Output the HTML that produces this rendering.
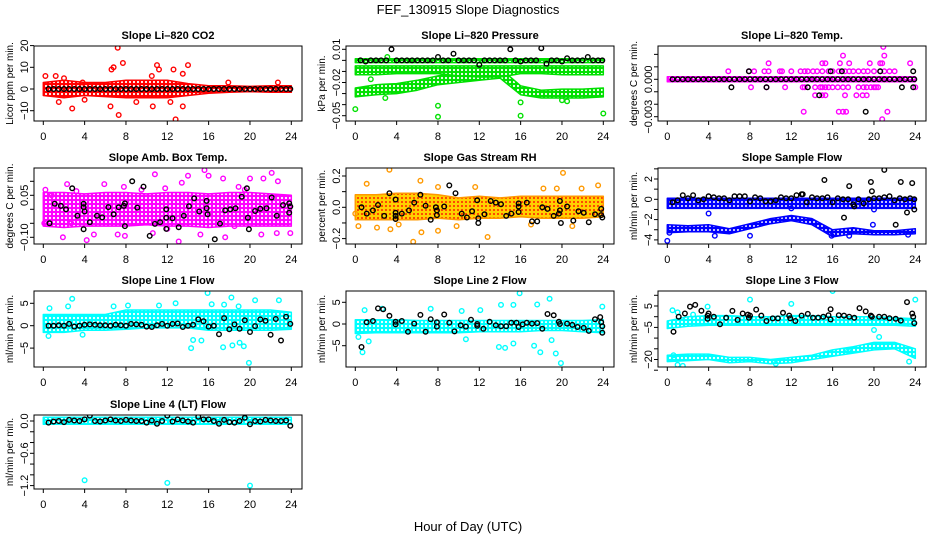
<!DOCTYPE html>
<html><head><meta charset="utf-8"><style>
html,body{margin:0;padding:0;background:#fff;}
svg{display:block;font-family:"Liberation Sans",Arial,sans-serif;}
</style></head><body>
<svg id="chart" xmlns="http://www.w3.org/2000/svg" width="936" height="540" viewBox="0 0 936 540">
<defs>
<pattern id="pat-red" width="4" height="4" patternUnits="userSpaceOnUse"><rect width="4" height="4" fill="#ff0000"/><circle cx="2" cy="2" r="1.1" fill="#fff"/></pattern>
<pattern id="pat-green" width="4" height="4" patternUnits="userSpaceOnUse"><rect width="4" height="4" fill="#00e000"/><circle cx="2" cy="2" r="1.1" fill="#fff"/></pattern>
<pattern id="pat-magenta" width="4" height="4" patternUnits="userSpaceOnUse"><rect width="4" height="4" fill="#ff00ff"/><circle cx="2" cy="2" r="1.1" fill="#fff"/></pattern>
<pattern id="pat-orange" width="4" height="4" patternUnits="userSpaceOnUse"><rect width="4" height="4" fill="#ffd000"/><circle cx="2" cy="2" r="1.0" fill="#ff2000"/></pattern>
<pattern id="pat-blue" width="4" height="4" patternUnits="userSpaceOnUse"><rect width="4" height="4" fill="#0000ff"/><circle cx="2" cy="2" r="1.0" fill="#fff"/></pattern>
<pattern id="pat-cyan" width="4" height="4" patternUnits="userSpaceOnUse"><rect width="4" height="4" fill="#00ffff"/><circle cx="2" cy="2" r="1.1" fill="#fff"/></pattern>
</defs>
<text x="468" y="14" text-anchor="middle" font-size="13">FEF_130915  Slope Diagnostics</text>
<text x="468" y="531" text-anchor="middle" font-size="13">Hour of Day (UTC)</text>
</svg>
<script>
const NS = "http://www.w3.org/2000/svg";
const xTicks = [0,4,8,12,16,20,24];
const bandT = [0,2,4,6,8,10,12,14,16,18,20,22,24];
const halfT = [0.5,1,1.5,2,2.5,3,3.5,4,4.5,5,5.5,6,6.5,7,7.5,8,8.5,9,9.5,10,10.5,11,11.5,12,12.5,13,13.5,14,14.5,15,15.5,16,16.5,17,17.5,18,18.5,19,19.5,20,20.5,21,21.5,22,22.5,23,23.5,23.9];
const zeros48 = [0,0,0,0,0,0,0,0,0,0,0,0,0,0,0,0,0,0,0,0,0,0,0,0,0,0,0,0,0,0,0,0,0,0,0,0,0,0,0,0,0,0,0,0,0,0,0,0];

// CO2
const co2BandLo = [-3,-4,-3,-3.5,-4,-4,-4,-3,-2,-1.5,-1.2,-1.5,-1.5];
const co2BandHi = [3,4,3,3,4,4,4,2.5,1.5,1.5,1.2,1.5,1.5];
const co2PtsT = [7.2,6.6,6.8,7.7,11,14,12.6,13.5,0.2,1.2,2.8,7.3,12.8,6.5,10.6,13.5,1.5,3.8,17.9,22.7,9,4,11.2,2,10.5,12.3];
const co2PtsV = [19,9,10,12,11,11,9,7,6,6,-9,-12,-14,-8,-8,-8,-6,3,3,3,-6,-5,9,5,6,-6];

// Pressure
const presTopLo = [-0.002,-0.002,-0.002,-0.002,-0.002,-0.002,-0.002,-0.002,-0.002,-0.002,-0.002,-0.002,-0.002];
const presTopHi = [0.0015,0.0015,0.0015,0.0015,0.0015,0.0015,0.0015,0.0015,0.0015,0.0015,0.0015,0.0015,0.0015];
const presMidLo = [-0.013,-0.013,-0.012,-0.012,-0.012,-0.014,-0.015,-0.015,-0.012,-0.012,-0.013,-0.013,-0.013];
const presMidHi = [-0.005,-0.005,-0.005,-0.005,-0.005,-0.005,-0.005,-0.005,-0.005,-0.005,-0.005,-0.005,-0.005];
const presLowLo = [-0.033,-0.031,-0.03,-0.027,-0.022,-0.02,-0.018,-0.016,-0.031,-0.034,-0.034,-0.034,-0.033];
const presLowHi = [-0.025,-0.022,-0.021,-0.018,-0.014,-0.011,-0.008,-0.007,-0.023,-0.027,-0.026,-0.026,-0.025];
const presPtsT = [0,8,8,16,16,24,20,20.5,2.9,3.1,1.5];
const presPtsV = [-0.044,-0.051,-0.041,-0.038,-0.05,-0.048,-0.036,-0.037,-0.034,0.003,-0.017];
const presBlkV = [0,-0.001,0,0,0,0,0.01,0,0,0,0,0,0,0,0,0.003,0,0,0.006,0,0,0,0,-0.004,0,0,0,0,0,0.01,0,-0.001,0,0,0,0.011,-0.003,0,0,-0.001,0.002,0,0,0,0.003,0,0,0];

// Temp
const tempBandLo = [-0.0002,-0.0002,-0.0002,-0.0002,-0.0002,-0.0002,-0.0002,-0.0002,-0.0002,-0.0002,-0.0002,-0.0002,-0.0002];
const tempBandHi = [0.0002,0.0002,0.0002,0.0002,0.0002,0.0002,0.0002,0.0002,0.0002,0.0002,0.0002,0.0002,0.0002];
const tempPtsT = [5.9,7.9,8.4,9.4,9.8,10.9,11.1,12,12.9,13.3,13.6,14.1,14.5,15,15.6,16,16.6,17.2,17.6,18,18.5,19,19.4,20,20.6,21,21.5,22,
  9.8,15,15.3,16.7,17.6,19.6,20.6,20.8,23.5,17,21,20.9,
  8.1,9.6,11.4,13.1,13.3,14.3,14.8,15,15.3,15.6,16,16.5,17,17.5,18.5,19,19.3,19.7,20,20.2,20.4,24,
  14.3,15,15.3,17.2,18.3,18.9,19.3,13.2,16.6,17,17.3,21.3,20.8];
const tempPtsV = [0.00064,0.00064,0.00064,0.00064,0.00064,0.00064,0.00064,0.00064,0.00064,0.00064,0.00064,0.00064,0.00064,0.00064,0.00064,0.00064,0.00064,0.00064,0.00064,0.00064,0.00064,0.00064,0.00064,0.00064,0.00064,0.00064,0.00064,0.00064,
  0.00128,0.00128,0.00128,0.00128,0.00128,0.00128,0.00128,0.00128,0.00128,0.0019,0.0019,0.0026,
  -0.00064,-0.00064,-0.00064,-0.00064,-0.00064,-0.00064,-0.00064,-0.00064,-0.00064,-0.00064,-0.00064,-0.00064,-0.00064,-0.00064,-0.00064,-0.00064,-0.00064,-0.00064,-0.00064,-0.00064,-0.00064,-0.00064,
  -0.00128,-0.00128,-0.00128,-0.00128,-0.00128,-0.00128,-0.00128,-0.0026,-0.0026,-0.0026,-0.0026,-0.0026,-0.0032];
const tempBlkT = [7.9,15.8,16.9,20.6,23.8,6.2,9.6,13.6,22.7,23.8,14.7,19.2];
const tempBlkV = [0.00064,0.00064,0.00064,0.00064,0.00064,-0.00064,-0.00064,-0.00064,-0.00064,-0.00064,-0.00128,-0.0026];

// Amb box temp
const ambBandLo = [-0.06,-0.065,-0.06,-0.06,-0.06,-0.055,-0.06,-0.06,-0.065,-0.06,-0.06,-0.06,-0.06];
const ambBandHi = [0.06,0.06,0.055,0.06,0.06,0.055,0.06,0.06,0.055,0.06,0.06,0.055,0.05];
const ambPtsT = [0.2,0.1,1.9,2.3,2.7,4.2,4.9,5.9,7.8,7.2,7.9,10.8,14,15.6,16,17.4,18.9,20,21.3,22.1,22.7,13.1,13.4,21.1,22.6,23.9,17.6,18.5,15.2,12,10.6,0.8,3.2,9.5,11.8,19.5];
const ambPtsV = [0.07,-0.05,-0.1,0.09,-0.05,-0.11,-0.09,0.09,0.08,-0.09,-0.095,0.125,0.12,0.14,0.12,0.11,0.08,0.11,0.11,0.13,0.1,-0.115,0.095,-0.09,-0.085,-0.085,-0.1,-0.06,-0.09,-0.07,-0.085,0.05,0.065,0.07,0.075,0.07];
const ambBlkT = [0.6,1.1,1.7,2.2,2.8,3.3,3.9,3.9,4,3.9,4.5,5.2,5.7,6.3,6.8,7.3,7.8,7.9,7.9,8.6,9.1,9.7,10.3,10.8,11.3,11.9,11.9,11.9,12.5,13.1,13.6,14.1,14.6,15.1,15.8,15.8,15.9,16.6,17.1,17.6,18.1,18.6,19.2,19.7,19.8,19.9,20.5,21,21.6,22.1,22.6,23.2,23.8,23.8,23.9];
const ambBlkV = [-0.05,0.02,0.012,0,0.075,-0.023,0.02,0.008,-0.008,-0.071,-0.046,-0.023,-0.029,0.008,-0.018,0.007,0.012,-0.06,0.021,0.1,0.006,0.081,-0.095,-0.052,-0.046,0,-0.03,-0.07,-0.032,-0.064,-0.023,0.011,0.039,-0.008,0.03,0.004,-0.018,-0.107,-0.051,-0.004,0,0.004,0.045,0.075,-0.03,-0.071,-0.006,0.002,0.004,0.042,-0.023,0.015,0.021,-0.012,0.01];

// RH
const rhBandLo = [-0.08,-0.08,-0.08,-0.08,-0.07,-0.08,-0.07,-0.07,-0.06,-0.07,-0.07,-0.07,-0.06];
const rhBandHi = [0.08,0.08,0.09,0.09,0.08,0.06,0.07,0.06,0.07,0.07,0.07,0.07,0.07];
const rhPtsT = [3.3,20.1,5.6,12.8,6.3,0.3,2.1,8,6.4,1.1,23.5,0,8,3.4,17,18.2,19.5,21.9,11.6,21,4.2,9.8];
const rhPtsV = [0.24,0.22,-0.22,-0.19,0.17,-0.12,-0.13,-0.15,-0.16,0.15,0.14,-0.04,0.13,-0.14,-0.11,0.12,0.12,0.12,0.13,-0.12,-0.11,-0.12];
const rhBlkT = [0.6,1.1,1.7,2.2,2.8,3.3,3.9,3.9,3.9,3.9,4.5,5.2,5.7,6.3,6.8,7.3,7.8,7.9,7.9,8.6,9.1,9.7,10.3,10.8,11.3,11.8,11.9,11.9,12.5,13.1,13.6,14.1,14.6,15.1,15.8,15.8,15.8,16.6,17.1,17.6,18.1,18.6,19.2,19.7,19.8,19.8,19.9,20.5,21.1,21.6,22.1,22.6,23.2,23.8,23.8,23.9];
const rhBlkV = [0,-0.04,-0.02,0.015,-0.055,0.09,0.05,-0.035,-0.055,-0.075,-0.04,-0.02,0.03,0.08,0.01,-0.08,0,-0.02,-0.05,0.005,0.14,0.09,-0.04,-0.065,-0.025,0.045,-0.07,-0.1,-0.045,0.04,0.03,0.02,-0.055,-0.04,0.025,0.005,-0.03,0.03,-0.09,-0.09,0,-0.01,-0.055,-0.04,-0.02,0.04,-0.1,0.005,-0.085,-0.025,-0.035,-0.095,-0.045,-0.01,-0.05,-0.065];

// Sample flow
const sfUpLo = [-0.9,-0.9,-0.9,-0.9,-0.9,-0.9,-0.9,-0.9,-0.9,-0.9,-0.9,-0.9,-0.9];
const sfUpHi = [0.1,0.1,0.1,0.1,0.1,0.1,0.1,0.1,0.1,0.1,0.1,0.1,0.1];
const sfLowLo = [-3.3,-3.2,-3.2,-3.4,-2.9,-2.4,-2.1,-2.5,-3.7,-3.4,-3.5,-3.5,-3.4];
const sfLowHi = [-2.5,-2.6,-2.5,-2.9,-2.4,-1.9,-1.6,-1.9,-3.0,-2.8,-3.1,-3.1,-2.9];
const sfPtsT = [0,0.2,4,8,15.9,17.6,19.9,12,20,23.3,4.6];
const sfPtsV = [-4.1,-3.3,-1.4,-3.6,-3.6,-3.6,-2.5,-0.9,-1.0,-3.5,-3.6];
const sfBlkV = [-0.3,-0.1,0.4,0.1,0.4,-0.1,0,0.3,0.2,0.1,0.1,-0.1,0.3,0.3,0.3,-0.2,0.2,0.1,-0.2,-0.2,-0.1,0.2,0.1,0.1,0.4,0.5,-0.3,0.2,0.1,0.1,0.2,-0.3,0.1,0,0,-0.5,0,-0.4,0,0.1,0.1,0.2,0.3,-0.1,0.1,0,0.1,0];
const sfBlkT = [15.2,17.6,19.7,19.8,21,22.6,23.7,23.9,23.2,17.1,22.1,18.1,13.1];
const sfBlkX = [1.9,1.3,1.7,0.8,2.9,1.7,1.6,-1.0,-1.3,-1.8,-2.5,-0.7,0.5];

// Line 1
const l1BandLo = [-1.5,-1.5,-1,-1,-0.8,-0.5,-0.5,-0.5,-1,-1,-1,-1,-0.8];
const l1BandHi = [2.5,2.5,2.5,2.5,3.5,3.5,3.5,3.5,3.5,3.5,3.5,3.5,3];
const l1PtsT = [2.8,3.8,0.5,15.9,18.2,20.5,22.8,14.3,14.5,15.3,17.4,18.3,19,19.4,19.9,16.3,17.5,18.9,2.4,6.8,8.2,12.8,11.2,0.6];
const l1PtsV = [6,-2,-2.3,7.3,6.3,5.7,5.7,-5,-3.2,-3.3,-4.8,-4.4,-3.8,-4.6,-8.3,4.8,4.7,4.3,4.3,4.3,4.5,5,4.5,3.9];
const l1BlkV = [0,0,0.1,0,0.4,-0.2,0,0.2,0.3,0.2,0.1,0.1,0,0.2,0.1,0,0.4,0.3,0.2,-0.2,-0.3,0.1,0.4,0,0.4,0.5,-0.3,0,0.2,1.4,1,-0.2,0,-1.9,1.7,-0.8,0.3,-0.7,1.2,-1.4,-0.1,1.4,1.1,-2,1.5,-3.3,2,0.4];

// Line 2
const l2BandLo = [-2.2,-2,-2,-2,-2,-2,-1.8,-1.8,-1.8,-1.5,-1.5,-1.8,-2];
const l2BandHi = [1,1,1,0.8,0.8,0.8,0.8,0.8,0.8,0.8,0.8,0.8,1];
const l2PtsT = [0.7,0.3,0.9,2.6,7.3,10.3,14.1,15.3,15.9,17.6,18.8,17.3,17.9,19.4,19.9,13.9,14.5,15.3,19,23.9,1.3,10.7,12.1];
const l2PtsV = [-6.5,-3,3.2,3.5,3.5,3,4.4,4.4,7.1,4.5,5.8,-5,-6.5,-6.8,-9,-5.3,-5.5,-4.5,-3.7,4,-4,-3.5,3.2];
const l2BlkT = [0.6,1.1,1.7,2.2,2.7,3.3,3.9,3.9,4.5,5.1,5.7,6.3,6.8,7.3,7.9,7.9,8.6,9.1,9.6,10.2,10.7,11.2,11.8,11.8,12.4,13,13.6,14.1,14.6,15.1,15.6,15.8,16.2,16.6,17.1,17.6,18.1,18.6,19.2,19.7,19.8,20.5,21,21.5,22.1,22.6,23.2,23.7,23.8,23.9,23.9];
const l2BlkV = [-5.3,0.4,0.7,3.6,3.4,1.9,0.5,-0.1,0.7,-1.8,0.1,2.1,-1.8,1.1,0.4,-0.6,2.2,0.3,-1.7,-0.3,-0.6,1,0,-0.4,-1.1,0.5,-0.3,-0.5,-0.5,0.3,0.3,-0.7,-0.1,0.3,0.1,0.2,-1.1,2.3,2,0.5,0,0.1,-0.2,-0.7,-0.9,-1.6,1.1,1.6,0.4,-0.5,-2];

// Line 3
const l3UpLo = [-5.5,-4.5,-4,-4,-4,-4,-4,-4,-4,-4,-4,-4,-4.5];
const l3UpHi = [-2,0,0.5,0.5,0,0,0.5,0.5,0,0,0,-0.5,-1];
const l3LowLo = [-21,-20.5,-20,-21.5,-21,-22,-21.5,-20,-18.5,-17,-15.5,-15,-19.5];
const l3LowHi = [-18,-17.5,-17.5,-19,-19,-20,-19,-18,-15.5,-14,-12,-12,-15];
const l3PtsT = [1,0.5,3.9,8,12,16,24,20.5,20,23.4,1,1.5,0.6,2.5,10.5,17.5];
const l3PtsV = [2,3,4.7,8,6,12,8,-9.5,-6.2,-21,-22.5,-23,-18,1,-22,-16];
const l3BlkT = [0.6,1.1,1.7,2.2,2.7,3.3,3.9,3.9,4,4.5,5.1,5.7,6.3,6.8,7.3,7.8,7.9,8,8.6,9.1,9.6,10.2,10.7,11.2,11.8,11.9,12.4,13,13.6,14.1,14.6,15.1,15.6,15.8,15.8,16.6,17.1,17.6,18.1,18.6,19.2,19.7,19.8,20.5,21,21.5,22.1,22.6,23.2,23.7,23.8,23.9];
const l3BlkV = [-7,0,1.5,4.7,5.5,2.8,-1,0.5,1.5,0,-3.5,-0.5,2.7,-1.5,1.5,1,-0.5,0.5,3.3,0.5,-2,-0.8,-0.8,1.8,0.5,-0.8,-2,0.5,1.3,-0.5,-0.4,0,0.7,3.5,-1.3,0.7,0.5,0,-0.5,4,2.5,0.5,0,0,0,-0.7,-1,-1.8,6.8,1.5,0,-3];

// Line 4
const l4BandLo = [-0.06,-0.06,-0.06,-0.06,-0.06,-0.06,-0.06,-0.06,-0.06,-0.06,-0.06,-0.06,-0.06];
const l4BandHi = [0.07,0.07,0.07,0.07,0.07,0.07,0.07,0.07,0.07,0.07,0.07,0.07,0.07];
const l4PtsT = [4,12,20];
const l4PtsV = [-1.1,-1.15,-1.2];
const l4BlkV = [-0.03,-0.01,0,-0.02,0.02,0.01,0,0.03,0.1,0,-0.01,0.01,0.03,0.01,0,0.02,0.01,0,0,-0.03,0.01,-0.05,0,0.1,-0.01,0.03,0.01,-0.01,-0.03,0.08,0.03,0.03,0,-0.05,0.02,-0.02,-0.03,0,0.06,-0.06,0,-0.01,0.02,0.01,0,0,0.01,-0.09];

const panels = [
 {key:"co2", title:"Slope Li\u2013820 CO2", ylab:"Licor ppm per min.", col:0, row:0, v0:0,p0:89,v1:10,p1:67.3,
  yticks:[-10,0,10,20], ylabels:["\u221210","0","10","20"], color:"#ff0000", pat:"pat-red",
  bands:[[bandT,co2BandLo,co2BandHi]], pts:[[co2PtsT,co2PtsV]], blk:[[halfT,zeros48]]},
 {key:"pressure", title:"Slope Li\u2013820 Pressure", ylab:"kPa per min.", col:1, row:0, v0:0.01,p0:49.3,v1:-0.05,p1:115.7,
  yticks:[0.01,0,-0.01,-0.02,-0.03,-0.04,-0.05], ylabels:["0.01","","","\u22120.02","","","\u22120.05"], color:"#00e000", pat:"pat-green",
  bands:[[bandT,presLowLo,presLowHi],[bandT,presMidLo,presMidHi],[bandT,presTopLo,presTopHi]], pts:[[presPtsT,presPtsV]], blk:[[halfT,presBlkV]]},
 {key:"temp", title:"Slope Li\u2013820 Temp.", ylab:"degrees C per min.", col:2, row:0, v0:0,p0:79.3,v1:-0.003,p1:116.7,
  yticks:[0.002,0.001,0,-0.001,-0.002,-0.003], ylabels:["","","0.000","","","\u22120.003"], color:"#ff00ff", pat:"pat-magenta",
  bands:[[bandT,tempBandLo,tempBandHi]], pts:[[tempPtsT,tempPtsV]], blk:[[halfT,zeros48],[tempBlkT,tempBlkV]]},
 {key:"amb-box-temp", title:"Slope Amb. Box Temp.", ylab:"degrees C per min.", col:0, row:1, v0:0,p0:209.3,v1:0.05,p1:195.3,
  yticks:[0.1,0.05,0,-0.05,-0.1], ylabels:["","0.05","","","\u22120.10"], color:"#ff00ff", pat:"pat-magenta",
  bands:[[bandT,ambBandLo,ambBandHi]], pts:[[ambPtsT,ambPtsV]], blk:[[ambBlkT,ambBlkV]]},
 {key:"gas-stream-rh", title:"Slope Gas Stream RH", ylab:"percent per min.", col:1, row:1, v0:0,p0:207.3,v1:0.2,p1:176,
  yticks:[0.2,0.1,0,-0.1,-0.2], ylabels:["0.2","","0.0","","\u22120.2"], color:"#ff9900", pat:"pat-orange",
  bands:[[bandT,rhBandLo,rhBandHi]], pts:[[rhPtsT,rhPtsV]], blk:[[rhBlkT,rhBlkV]]},
 {key:"sample-flow", title:"Slope Sample Flow", ylab:"ml/min per min.", col:2, row:1, v0:0,p0:199.3,v1:2,p1:179,
  yticks:[3,2,1,0,-1,-2,-3,-4], ylabels:["","2","","0","","\u22122","","\u22124"], color:"#0000ff", pat:"pat-blue",
  bands:[[bandT,sfUpLo,sfUpHi],[bandT,sfLowLo,sfLowHi]], pts:[[sfPtsT,sfPtsV]], blk:[[halfT,sfBlkV],[sfBlkT,sfBlkX]]},
 {key:"line-1-flow", title:"Slope Line 1 Flow", ylab:"ml/min per min.", col:0, row:2, v0:0,p0:325.7,v1:5,p1:303.3,
  yticks:[5,0,-5], ylabels:["5","0","\u22125"], color:"#00ffff", pat:"pat-cyan",
  bands:[[bandT,l1BandLo,l1BandHi]], pts:[[l1PtsT,l1PtsV]], blk:[[halfT,l1BlkV]]},
 {key:"line-2-flow", title:"Slope Line 2 Flow", ylab:"ml/min per min.", col:1, row:2, v0:0,p0:324,v1:5,p1:302.3,
  yticks:[5,0,-5], ylabels:["5","0","\u22125"], color:"#00ffff", pat:"pat-cyan",
  bands:[[bandT,l2BandLo,l2BandHi]], pts:[[l2PtsT,l2PtsV]], blk:[[l2BlkT,l2BlkV]]},
 {key:"line-3-flow", title:"Slope Line 3 Flow", ylab:"ml/min per min.", col:2, row:2, v0:0,p0:316.7,v1:5,p1:306,
  yticks:[10,5,0,-5,-10,-15,-20,-25], ylabels:["","5","","\u22125","","","\u221220",""], color:"#00ffff", pat:"pat-cyan",
  bands:[[bandT,l3UpLo,l3UpHi],[bandT,l3LowLo,l3LowHi]], pts:[[l3PtsT,l3PtsV]], blk:[[l3BlkT,l3BlkV]]},
 {key:"line-4-flow", title:"Slope Line 4 (LT) Flow", ylab:"ml/min per min.", col:0, row:3, v0:0,p0:421,v1:-0.6,p1:453.3,
  yticks:[0,-0.2,-0.4,-0.6,-0.8,-1,-1.2], ylabels:["0.0","","","\u22120.6","","","\u22121.2"], color:"#00ffff", pat:"pat-cyan",
  bands:[[bandT,l4BandLo,l4BandHi]], pts:[[l4PtsT,l4PtsV]], blk:[[halfT,l4BlkV]]}
];

const colLeft = [34,346,658];
const rowBox = [[46,121],[168,244],[291,367],[415,489]];
const boxW = 268;
const svg = document.getElementById("chart");

function add(parent, tag, attrs){
  const e = document.createElementNS(NS, tag);
  for (const k in attrs) e.setAttribute(k, attrs[k]);
  parent.appendChild(e);
  return e;
}

panels.forEach(function(p){
  const L = colLeft[p.col], T = rowBox[p.row][0], B = rowBox[p.row][1], R = L + boxW;
  const xs = function(t){ return L + 9.3 + t * 248 / 24; };
  const ys = function(v){ return p.p0 + (v - p.v0) * (p.p1 - p.p0) / (p.v1 - p.v0); };
  const g = add(svg, "g", {});
  
  
  const cp = add(g, "clipPath", {id: "clip-" + p.key});
  add(cp, "rect", {x: L, y: T, width: boxW, height: B - T});
  const plot = add(g, "g", {"clip-path": "url(#clip-" + p.key + ")"});
  
  

  p.bands.forEach(function(b){
    const bt = b[0], lo = b[1], hi = b[2];
    let d = "";
    for (let i = 0; i < bt.length; i++) d += (i ? "L" : "M") + xs(bt[i]).toFixed(1) + "," + ys(hi[i]).toFixed(1);
    for (let i = bt.length - 1; i >= 0; i--) d += "L" + xs(bt[i]).toFixed(1) + "," + ys(lo[i]).toFixed(1);
    d += "Z";
    const path = add(plot, "path", {d: d, fill: "url(#" + p.pat + ")", stroke: p.color, "stroke-width": 1.5, "stroke-linejoin": "round"});
    
    
  });
  p.pts.forEach(function(s){
    for (let i = 0; i < s[0].length; i++) {
      const c = add(plot, "circle", {cx: xs(s[0][i]).toFixed(1), cy: ys(s[1][i]).toFixed(1), r: 2.3, fill: "none", stroke: p.color, "stroke-width": 1.4});
      
      
    }
  });
  p.blk.forEach(function(s){
    for (let i = 0; i < s[0].length; i++) {
      const c = add(plot, "circle", {cx: xs(s[0][i]).toFixed(1), cy: ys(s[1][i]).toFixed(1), r: 2.3, fill: "none", stroke: "#000", "stroke-width": 1.4});
      
      
    }
  });

  const box = add(g, "rect", {x: L, y: T, width: boxW, height: B - T, fill: "none", stroke: "#000", "stroke-width": 1});
  
  

  const title = add(g, "text", {x: (L + R) / 2, y: T - 7, "text-anchor": "middle", "font-size": 11, "font-weight": "bold"});
  
  
  title.textContent = p.title;

  const yt = add(g, "text", {x: 0, y: 0, "text-anchor": "middle", "font-size": 10, transform: "translate(" + (L - 21) + "," + ((T + B) / 2) + ") rotate(-90)"});
  
  
  yt.textContent = p.ylab;

  xTicks.forEach(function(t){
    const x = xs(t);
    const tk = add(g, "line", {x1: x, x2: x, y1: B, y2: B + 4, stroke: "#000", "stroke-width": 1});
    
    
    const lb = add(g, "text", {x: x, y: B + 19, "text-anchor": "middle", "font-size": 11});
    
    
    lb.textContent = String(t);
  });
  p.yticks.forEach(function(v, i){
    const y = ys(v);
    const tk = add(g, "line", {x1: L - 4, x2: L, y1: y, y2: y, stroke: "#000", "stroke-width": 1});
    
    
    if (p.ylabels[i]) {
      const lb = add(g, "text", {x: 0, y: 0, "text-anchor": "middle", "font-size": 11, transform: "translate(" + (L - 6) + "," + y.toFixed(1) + ") rotate(-90)"});
      
      
      lb.textContent = p.ylabels[i];
    }
  });
});
</script>
</body></html>
